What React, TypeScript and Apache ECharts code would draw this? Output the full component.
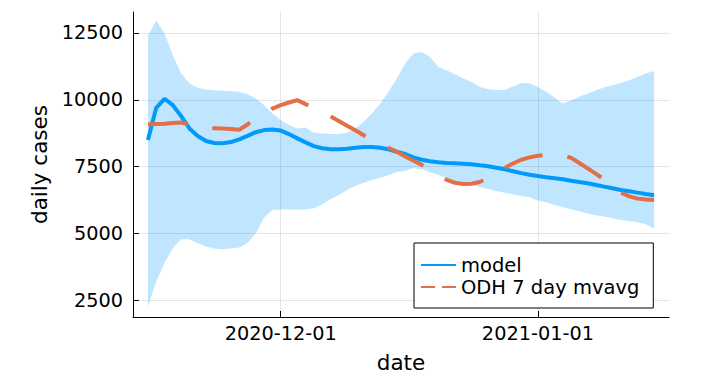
import React, { useEffect, useRef } from 'react';
import * as echarts from 'echarts';

const startDate = '2020-11-15';

const modelValues = [
  8500, 9700, 10040, 9800, 9390, 8930, 8650, 8460, 8385, 8375,
  8420, 8520, 8655, 8790, 8870, 8890, 8850, 8720, 8560, 8410,
  8270, 8190, 8150, 8150, 8170, 8210, 8235, 8235, 8210, 8150,
  8060, 7974, 7851, 7761, 7701, 7664, 7638, 7627, 7612, 7590,
  7552, 7515, 7463, 7403, 7330, 7260, 7200, 7150, 7104, 7067,
  7030, 6978, 6929, 6880, 6817, 6754, 6694, 6631, 6582, 6530,
  6481, 6433,
];

const upperValues = [
  12400, 12970, 12480, 11670, 10985, 10612, 10448, 10388, 10362, 10336,
  10325, 10299, 10213, 10052, 9802, 9493, 9243, 9056, 8933, 8970,
  8769, 8746, 8720, 8720, 8769, 8933, 9179, 9493, 9866, 10299,
  10800, 11357, 11730, 11792, 11605, 11232, 11108, 10959, 10798, 10672,
  10480, 10400, 10370, 10370, 10500, 10634, 10610, 10480, 10299, 10090,
  9866, 9989, 10112, 10239, 10362, 10462, 10549, 10634, 10735, 10858,
  10985, 11082,
];

const lowerValues = [
  2276, 3209, 3895, 4455, 4791, 4791, 4642, 4515, 4440, 4418,
  4440, 4480, 4650, 5000, 5600, 5880, 5900, 5900, 5890, 5900,
  5948, 6097, 6284, 6444, 6631, 6791, 6903, 7004, 7090, 7190,
  7300, 7351, 7440, 7403, 7291, 7190, 7067, 6978, 6903, 6817,
  6754, 6668, 6593, 6530, 6470, 6407, 6360, 6240, 6172, 6071,
  5985, 5910, 5836, 5746, 5687, 5634, 5575, 5511, 5474, 5425,
  5351, 5180,
];

const odhValues = [
  9090, 9100, 9110, 9130, 9150, 9080, 8990, 8950, 8940, 8930,
  8910, 8880, 9080, 9300, 9500, 9670, 9800, 9900, 9990, 9840,
  9700, 9540, 9380, 9210, 9030, 8860, 8680, 8510, 8360, 8210,
  8060, 7880, 7720, 7570, 7380, 7190, 7010, 6900, 6850, 6860,
  6930, 7080, 7280, 7460, 7620, 7760, 7850, 7910, 7940, 7950,
  7920, 7830, 7640, 7440, 7230, 7020, 6780, 6530, 6390, 6310,
  6270, 6257,
];

const xTickLabels = ['2020-12-01', '2021-01-01'];
const yTicks = [2500, 5000, 7500, 10000, 12500];
const seriesNames = ['model', 'ODH 7 day mvavg'];
const axisNames = { x: 'date', y: 'daily cases' };

const DAY = 86400000;

function parseDate(s: string, offsetDays = 0): number {
  const [y, m, d] = s.split('-').map(Number);
  return new Date(y, m - 1, d + offsetDays).getTime();
}

function fmtDate(v: number): string {
  const d = new Date(v);
  const mm = String(d.getMonth() + 1).padStart(2, '0');
  const dd = String(d.getDate()).padStart(2, '0');
  return `${d.getFullYear()}-${mm}-${dd}`;
}

const FONT = 'DejaVu Sans';
const BLUE = '#009AFA';
const ORANGE = '#E36F47';

export default function App() {
  const ref = useRef<HTMLDivElement>(null);

  useEffect(() => {
    if (!ref.current) return;
    const chart = echarts.init(ref.current, null, { renderer: 'svg' });

    const times = modelValues.map((_, i) => parseDate(startDate, i));
    const xMin = times[0] - 1.8 * DAY;
    const xMax = times[times.length - 1] + 1.8 * DAY;
    const xTicks = xTickLabels.map((s) => parseDate(s));

    const bandData = times.map((t, i) => [t, lowerValues[i], upperValues[i]]);
    const modelData = times.map((t, i) => [t, modelValues[i]]);
    const odhData = times.map((t, i) => [t, odhValues[i]]);

    const option: any = {
      animation: false,
      backgroundColor: '#ffffff',
      textStyle: { fontFamily: FONT },
      grid: { left: 133, top: 12, right: 38, bottom: 59, containLabel: false, outerBoundsMode: 'none' },
      legend: {
        orient: 'vertical',
        left: 414,
        top: 243,
        padding: [12, 14, 11, 7],
        itemGap: 2,
        itemWidth: 35,
        itemHeight: 2,
        backgroundColor: '#ffffff',
        borderColor: '#000000',
        borderWidth: 1,
        borderRadius: 0,
        selectedMode: false,
        textStyle: { fontFamily: FONT, fontSize: 19.5, color: '#000', lineHeight: 20 },
        data: [
          {
            name: seriesNames[0],
            icon: 'path://M0,0H35V2H0Z',
            itemStyle: { color: BLUE, borderWidth: 0 },
          },
          {
            name: seriesNames[1],
            icon: 'path://M0,0H14V2H0Z M21,0H35V2H21Z',
            itemStyle: { color: ORANGE, borderWidth: 0 },
          },
        ],
      },
      xAxis: {
        type: 'value',
        min: xMin,
        max: xMax,
        scale: true,
        name: axisNames.x,
        nameLocation: 'middle',
        nameGap: 38,
        nameTextStyle: { fontFamily: FONT, fontSize: 21.5, color: '#000', lineHeight: 14 },
        axisLine: { show: true, onZero: false, lineStyle: { color: '#000', width: 1 } },
        axisTick: { show: true, inside: true, length: 6, lineStyle: { color: '#000', width: 1 }, customValues: xTicks },
        axisLabel: {
          show: true,
          margin: 7,
          fontFamily: FONT,
          fontSize: 19.3,
          color: '#000',
          customValues: xTicks,
          formatter: (v: number) => fmtDate(v),
        },
        splitLine: { show: true, lineStyle: { color: 'rgba(0,0,0,0.1)', width: 1 } },
      },
      yAxis: {
        type: 'value',
        min: 1880,
        max: 13285,
        name: axisNames.y,
        nameLocation: 'middle',
        nameGap: 80,
        nameTextStyle: { fontFamily: FONT, fontSize: 21.5, color: '#000' },
        axisLine: { show: true, onZero: false, lineStyle: { color: '#000', width: 1 } },
        axisTick: { show: true, inside: true, length: 6, lineStyle: { color: '#000', width: 1 }, customValues: yTicks },
        axisLabel: {
          show: true,
          margin: 10,
          fontFamily: FONT,
          fontSize: 19.3,
          color: '#000',
          customValues: yTicks,
          formatter: (v: number) => String(v),
        },
        splitLine: { show: true, lineStyle: { color: 'rgba(0,0,0,0.1)', width: 1 } },
      },
      series: [
        {
          name: 'band',
          type: 'custom',
          data: bandData,
          encode: { x: 0, y: [1, 2] },
          silent: true,
          z: 1,
          renderItem: (params: any, api: any) => {
            if (params.dataIndex !== 0) return null;
            const pts: number[][] = [];
            for (let i = 0; i < bandData.length; i++) {
              pts.push(api.coord([bandData[i][0], bandData[i][2]]));
            }
            for (let i = bandData.length - 1; i >= 0; i--) {
              pts.push(api.coord([bandData[i][0], bandData[i][1]]));
            }
            return {
              type: 'polygon',
              shape: { points: pts },
              style: { fill: 'rgba(0,154,250,0.25)', stroke: 'none' },
              silent: true,
            };
          },
        },
        {
          name: seriesNames[0],
          type: 'line',
          data: modelData,
          symbol: 'none',
          color: BLUE,
          lineStyle: { color: BLUE, width: 4 },
          z: 3,
        },
        {
          name: seriesNames[1],
          type: 'line',
          data: odhData,
          symbol: 'none',
          color: ORANGE,
          lineStyle: { color: ORANGE, width: 4, type: [40, 25] },
          z: 4,
        },
      ],
    };

    chart.setOption(option);
    return () => chart.dispose();
  }, []);

  return (
    <div
      ref={ref}
      style={{ position: 'fixed', left: 0, top: 0, width: 707, height: 376, background: '#fff' }}
    />
  );
}
